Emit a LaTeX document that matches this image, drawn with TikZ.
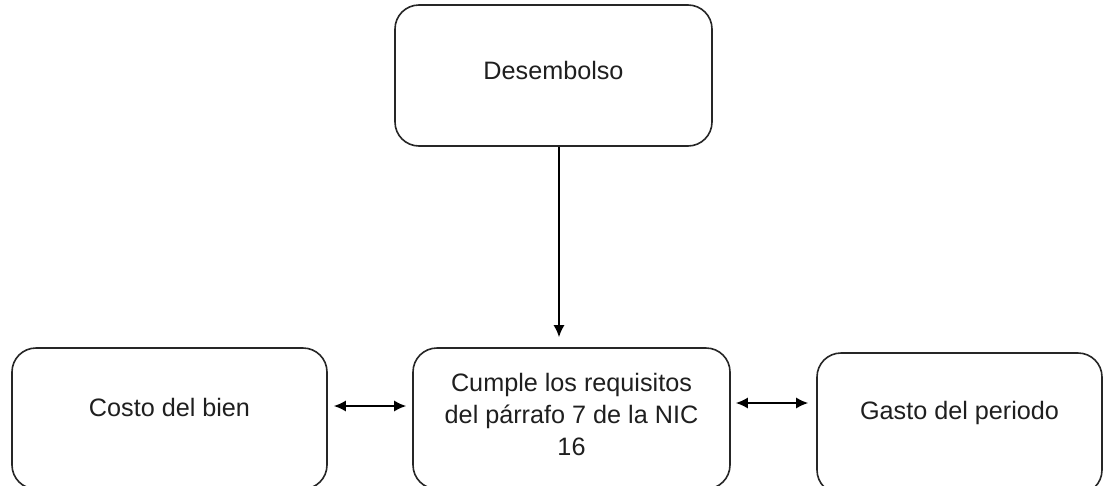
\documentclass[tikz,border=0pt]{standalone}
\usepackage{fontspec}
\setmainfont{Liberation Sans}
\usetikzlibrary{arrows.meta,calc}
\begin{document}
\begin{tikzpicture}[x=1pt,y=-1pt,
  box/.style={draw=black!85, line width=1.6pt, rounded corners=24pt, fill=white,
    inner sep=0pt, align=center, font=\fontsize{25.2}{32}\selectfont, text=black!88},
  arr/.style={line width=1.6pt, -{Latex[length=12pt,width=11pt]}},
  darr/.style={line width=1.6pt, {Latex[length=12pt,width=11pt]}-{Latex[length=12pt,width=11pt]}}]
\useasboundingbox (0,0) rectangle (1103,485);
\clip (0,0) rectangle (1103,485);
\fill[white] (0,0) rectangle (1103,485);
\node[box, minimum width=317pt, minimum height=141pt, text depth=11pt] (d) at (553.5,75.5) {Desembolso};
\node[box, minimum width=315pt, minimum height=141pt, text depth=23pt] (c) at (169.5,418.5) {Costo del bien};
\node[box, minimum width=317pt, minimum height=141pt, text depth=9pt] (m) at (571.5,418.5) {Cumple los requisitos\\del párrafo 7 de la NIC\\16};
\node[box, minimum width=285pt, minimum height=141pt, text depth=27pt] (g) at (959.5,423.5) {Gasto del periodo};
\coordinate (vx) at (559,0);
\coordinate (ly) at (0,406);
\coordinate (ry) at (0,403);
\draw[arr, shorten >=10pt] (d.south -| vx) -- (m.north -| vx);
\draw[darr, shorten <=6pt, shorten >=6pt] (c.east |- ly) -- (m.west |- ly);
\draw[darr, shorten <=5pt, shorten >=8pt] (m.east |- ry) -- (g.west |- ry);
\end{tikzpicture}
\end{document}
